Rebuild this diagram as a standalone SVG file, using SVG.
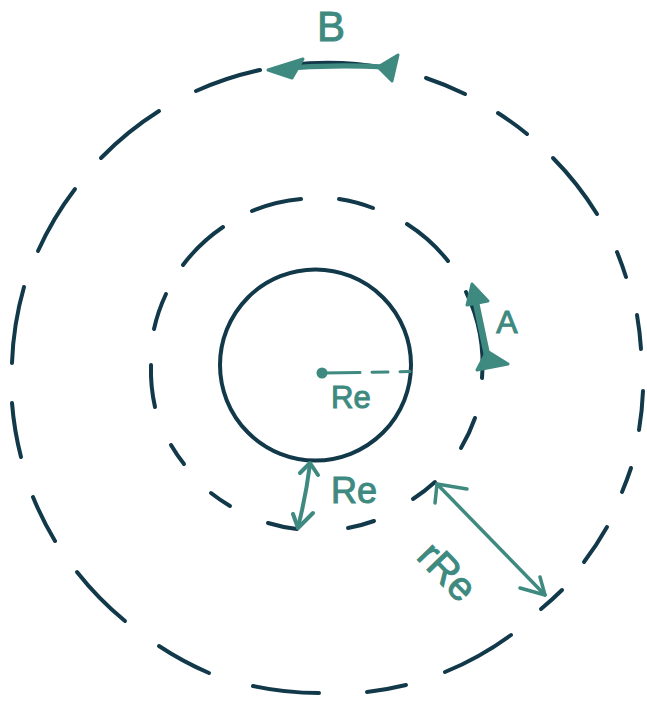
<svg xmlns="http://www.w3.org/2000/svg" width="647" height="702" viewBox="0 0 647 702">
<style>
.dk{fill:none;stroke:#11394a;stroke-width:4;stroke-linecap:round}
.tl{fill:none;stroke:#3e8a80;stroke-linecap:round;stroke-linejoin:round}
.tf{fill:#3e8a80;stroke:#3e8a80;stroke-width:3;stroke-linejoin:round}
.lbl{fill:#3e8a80;stroke:#3e8a80;stroke-width:1;font-family:"Liberation Sans","DejaVu Sans",sans-serif}
</style>
<rect width="647" height="702" fill="#ffffff"/>
<g id="outer-orbit" class="dk">
<path d="M290 65 A315 315 0 0 1 385 68"/>
<path d="M426 78 A315 315 0 0 1 465 94"/>
<path d="M498 113 A315 315 0 0 1 527 134"/>
<path d="M553 158 A315 315 0 0 1 597 214"/>
<path d="M617 252 A315 315 0 0 1 626 277"/>
<path d="M637 315 A315 315 0 0 1 641 349"/>
<path d="M643 391 A315 315 0 0 1 639 430"/>
<path d="M631 468 A315 315 0 0 1 622 492"/>
<path d="M607 527 A315 315 0 0 1 584 562"/>
<path d="M562 590 A315 315 0 0 1 541 609"/>
<path d="M511 635 A315 315 0 0 1 445 672"/>
<path d="M406 685 A315 315 0 0 1 367 692"/>
<path d="M319 693 A315 315 0 0 1 253 686"/>
<path d="M209 673 A315 315 0 0 1 159 646"/>
<path d="M125 621 A315 315 0 0 1 77 572"/>
<path d="M55 541 A315 315 0 0 1 33 497"/>
<path d="M21 457 A315 315 0 0 1 12 403"/>
<path d="M12 363 A315 315 0 0 1 24 287"/>
<path d="M38 251 A315 315 0 0 1 75 189"/>
<path d="M101 158 A315 315 0 0 1 159 111"/>
<path d="M196 91 A315 315 0 0 1 260 70"/>
</g>
<g id="middle-orbit" class="dk">
<path d="M339 199 A166 166 0 0 1 373 208"/>
<path d="M407 224 A166 166 0 0 1 448 261"/>
<path d="M466 292 A166 166 0 0 1 482 378"/>
<path d="M475 418 A166 166 0 0 1 461 448"/>
<path d="M435 482 A166 166 0 0 1 413 499"/>
<path d="M374 521 A166 166 0 0 1 348 528"/>
<path d="M297 529 A166 166 0 0 1 268 523"/>
<path d="M230 506 A166 166 0 0 1 211 493"/>
<path d="M184 464 A166 166 0 0 1 171 445"/>
<path d="M155 407 A166 166 0 0 1 151 365"/>
<path d="M154 329 A166 166 0 0 1 166 294"/>
<path d="M183 265 A166 166 0 0 1 223 227"/>
<path d="M252 211 A166 166 0 0 1 301 199"/>
</g>
<g id="earth">
<circle cx="315.5" cy="365" r="95.5" fill="none" stroke="#11394a" stroke-width="4"/>
</g>
<g id="connectors">
<g id="radius-line">
<circle cx="322" cy="373" r="5.5" fill="#3e8a80"/>
<path class="tl" stroke-width="3" d="M322 373 L360 372.5 M372 372.3 L388 372 M400 371.8 L410 371.6"/>
</g>
<g id="arrow-re">
<path class="tl" stroke-width="4" d="M310 464 Q306 496 298 527"/>
<path class="tl" stroke-width="4" d="M300 473 L310 463 L318 475"/>
<path class="tl" stroke-width="4" d="M293 514 L298 528 L313 513"/>
</g>
<g id="arrow-rre">
<path class="tl" stroke-width="3.5" d="M437 484 L545 595"/>
<path class="tl" stroke-width="3.5" d="M435 503 L437 484 L467 489"/>
<path class="tl" stroke-width="3.5" d="M520 588 L545 595 L540 577"/>
</g>
<g id="arrow-a">
<path class="tl" stroke-width="6.5" d="M475 298 L487 355"/>
<polygon class="tf" points="472,284 488,301 467,305"/>
<polygon class="tf" points="487,351 508,364 477,370"/>
</g>
<g id="arrow-b">
<path class="tl" stroke-width="5" d="M385 67 Q330 64 276 69"/>
<polygon class="tf" points="268,70 303,59 292,78"/>
<polygon class="tf" points="398,55 378,67 392,81"/>
</g>
</g>
<g id="labels">
<text class="lbl" x="331" y="41" font-size="42" text-anchor="middle">B</text>
<text class="lbl" x="507" y="333" font-size="32" text-anchor="middle">A</text>
<text class="lbl" x="331" y="408" font-size="31">Re</text>
<text class="lbl" x="331" y="503" font-size="36">Re</text>
<text class="lbl" font-size="40" text-anchor="middle" transform="translate(447 572) rotate(46)" x="0" y="13">rRe</text>
</g>
</svg>
